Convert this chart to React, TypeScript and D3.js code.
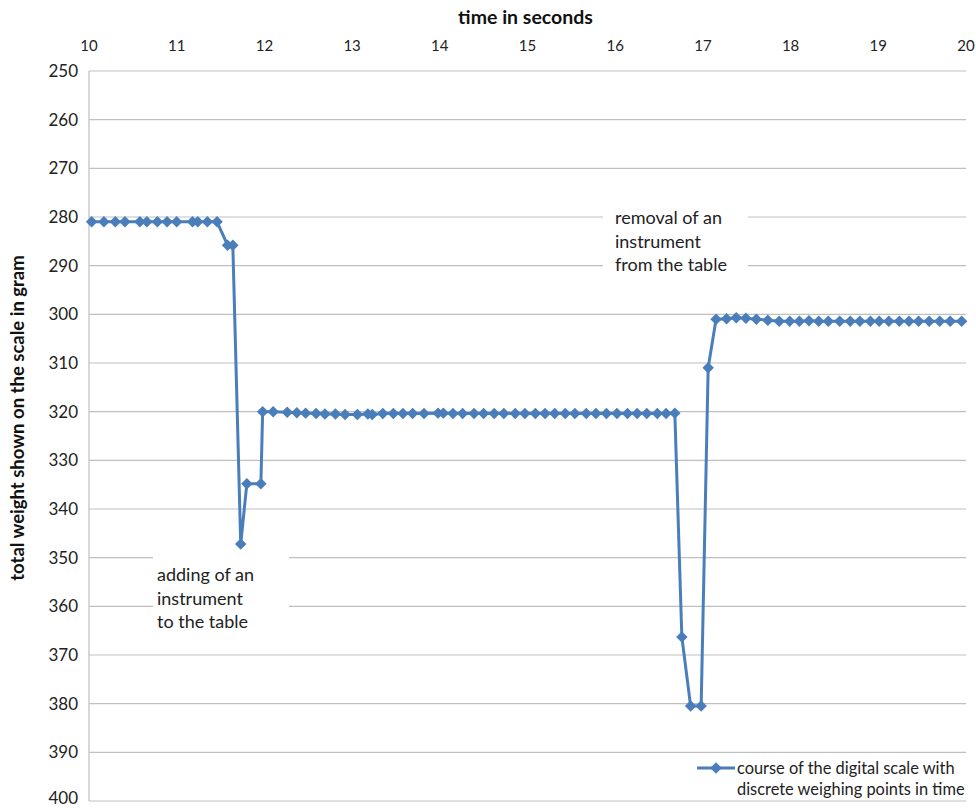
import React from "react";
import * as d3 from "d3";

const times: number[] = [
  10.03, 10.17, 10.30, 10.41, 10.58, 10.66, 10.78, 10.89, 11.00, 11.18, 11.24, 11.35, 11.46,
  11.58, 11.64, 11.73, 11.80, 11.96, 11.98,
  12.10, 12.26, 12.37, 12.47, 12.59, 12.69, 12.81, 12.92, 13.06, 13.18, 13.23, 13.35, 13.47,
  13.58, 13.69, 13.82, 13.98, 14.04, 14.15, 14.26, 14.39, 14.50, 14.62, 14.73, 14.86, 14.97,
  15.09, 15.20, 15.31, 15.43, 15.54, 15.67, 15.78, 15.90, 16.02, 16.14, 16.25, 16.36, 16.48,
  16.58, 16.68,
  16.76, 16.86, 16.98, 17.06, 17.15,
  17.27, 17.38, 17.49, 17.61, 17.74, 17.87, 17.99, 18.10, 18.21, 18.32, 18.43, 18.56, 18.68,
  18.79, 18.91, 19.01, 19.12, 19.24, 19.35, 19.46, 19.58, 19.70, 19.82, 19.95,
];

const weights: number[] = [
  281, 281, 281, 281, 281, 281, 281, 281, 281, 281, 281, 281, 281,
  285.8, 285.8, 347.2, 334.8, 334.8, 320.0,
  320.0, 320.1, 320.2, 320.3, 320.4, 320.5, 320.5, 320.6, 320.6, 320.5, 320.6, 320.4, 320.4,
  320.4, 320.4, 320.4, 320.3, 320.3, 320.4, 320.4, 320.4, 320.4, 320.4, 320.4, 320.4, 320.4,
  320.4, 320.4, 320.4, 320.4, 320.4, 320.4, 320.4, 320.4, 320.4, 320.4, 320.4, 320.4, 320.4,
  320.4, 320.3,
  366.3, 380.5, 380.5, 311.0, 301.0,
  300.9, 300.7, 300.8, 301.0, 301.2, 301.4, 301.4, 301.4, 301.3, 301.4, 301.4, 301.4, 301.4,
  301.4, 301.4, 301.4, 301.4, 301.4, 301.4, 301.4, 301.4, 301.4, 301.4, 301.4,
];

const xTicks: number[] = [10, 11, 12, 13, 14, 15, 16, 17, 18, 19, 20];
const yTicks: number[] = [250, 260, 270, 280, 290, 300, 310, 320, 330, 340, 350, 360, 370, 380, 390, 400];

const xTitle = "time in seconds";
const yTitle = "total weight shown on the scale in gram";
const noteRemoval: string[] = ["removal of an", "instrument", "from the table"];
const noteAdding: string[] = ["adding of an", "instrument", "to the table"];
const legendLines: string[] = ["course of the digital scale with", "discrete weighing points in time"];

const W = 976;
const H = 808;
const FONT = "Lato, 'Open Sans', sans-serif";
const BLUE = "#4a7ebb";
const GRID = "#bfbfbf";

export default function App() {
  const left = 89, right = 966, top = 71, bottom = 801;
  const x = d3.scaleLinear().domain([10, 20]).range([left, right]);
  const y = d3.scaleLinear().domain([250, 400]).range([top, bottom]);
  const pts = times.map((t, i) => [t, weights[i]] as [number, number]);
  const line = d3.line<[number, number]>().x(d => x(d[0])).y(d => y(d[1]));
  const sq = d3.symbol().type(d3.symbolSquare).size(66)() || "";

  return (
    <svg width={W} height={H} style={{ position: "absolute", left: 0, top: 0, background: "#fff" }} fontFamily={FONT}>
      <rect x={0} y={0} width={W} height={H} fill="#fff" />
      {yTicks.map(v => (
        <line key={"g" + v} x1={left} x2={right} y1={y(v)} y2={y(v)} stroke={GRID} strokeWidth={1.2} />
      ))}
      <line x1={left} x2={left} y1={top} y2={bottom} stroke={GRID} strokeWidth={1.2} />
      {yTicks.map(v => (
        <text key={"yl" + v} x={78} y={Math.min(y(v), 798)} dy="0.35em" textAnchor="end" fontSize={17} fill="#222">{v}</text>
      ))}
      {xTicks.map(v => (
        <text key={"xl" + v} x={x(v)} y={46} dy="0.35em" textAnchor="middle" fontSize={15} fill="#222">{v}</text>
      ))}
      <text x={(left + right) / 2 - 2} y={17} dy="0.35em" textAnchor="middle" fontSize={19.5} fontWeight="bold" fill="#111">{xTitle}</text>
      <text transform={`translate(18,418) rotate(-90)`} dy="0.35em" textAnchor="middle" fontSize={18.5} fontWeight="bold" fill="#111">{yTitle}</text>

      <rect x={603} y={205} width={145} height={74} fill="#fff" />
      {noteRemoval.map((s, i) => (
        <text key={"r" + i} x={615} y={218 + i * 23.5} dy="0.35em" fontSize={18} fill="#222">{s}</text>
      ))}
      <rect x={153} y={550} width={136} height={84} fill="#fff" />
      {noteAdding.map((s, i) => (
        <text key={"a" + i} x={157} y={575 + i * 23.5} dy="0.35em" fontSize={18} fill="#222">{s}</text>
      ))}

      <path d={line(pts) || ""} fill="none" stroke={BLUE} strokeWidth={3} strokeLinejoin="round" />
      {pts.map((d, i) => (
        <path key={"m" + i} d={sq} transform={`translate(${x(d[0])},${y(d[1])}) rotate(45)`} fill={BLUE} />
      ))}

      <line x1={697} x2={735} y1={768} y2={768} stroke={BLUE} strokeWidth={3} />
      <path d={sq} transform={`translate(716,768) rotate(45)`} fill={BLUE} />
      {legendLines.map((s, i) => (
        <text key={"lg" + i} x={737} y={768 + i * 21} dy="0.35em" fontSize={16.4} fill="#222">{s}</text>
      ))}
    </svg>
  );
}
